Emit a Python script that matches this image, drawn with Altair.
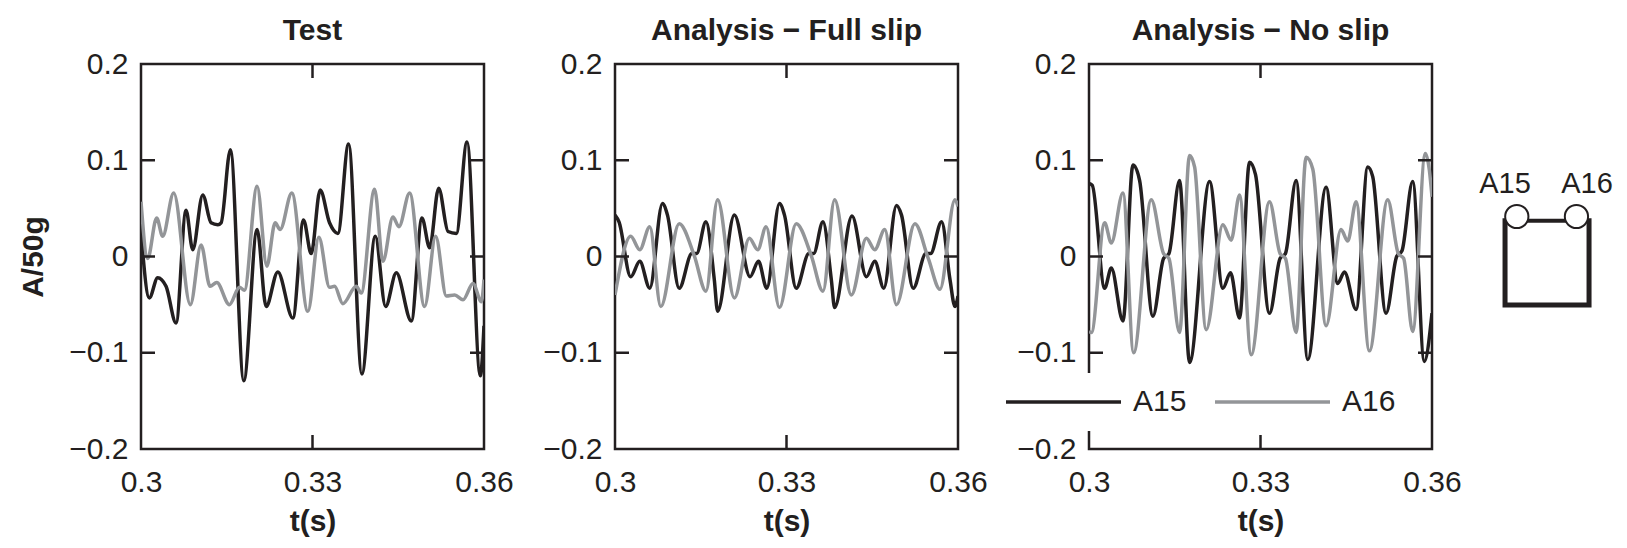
import altair as alt
import pandas as pd

INK = "#231f20"
GREY = "#939598"
FONT = "Liberation Sans"

series_names = ["A15", "A16"]
panel_titles = ["Test", "Analysis − Full slip", "Analysis − No slip"]
y_title = "A/50g"
x_title = "t(s)"
y_ticks = [-0.2, -0.1, 0, 0.1, 0.2]
x_ticks = [0.3, 0.33, 0.36]
inner_y_ticks = [-0.1, 0, 0.1]
inner_x_ticks = [0.33]

# ---- Test ----
test_a15_t = [0.3, 0.30146, 0.30292, 0.30438, 0.30613, 0.30788, 0.30905, 0.31080, 0.31226, 0.31343,
              0.31401, 0.31564, 0.31798, 0.32031, 0.32189, 0.32393, 0.32656, 0.32843, 0.32977, 0.33134,
              0.33298, 0.33444, 0.33631, 0.33864, 0.34098, 0.34279, 0.34466, 0.34729, 0.34915, 0.35049,
              0.35207, 0.35370, 0.35516, 0.35703, 0.35936, 0.36]
test_a15_v = [0.025, -0.043, -0.022, -0.031, -0.069, 0.048, 0.007, 0.064, 0.035, 0.033,
              0.035, 0.111, -0.129, 0.028, -0.052, -0.016, -0.064, 0.038, 0.003, 0.069,
              0.035, 0.024, 0.117, -0.122, 0.021, -0.052, -0.017, -0.067, 0.040, 0.009,
              0.071, 0.026, 0.024, 0.119, -0.124, -0.072]
test_a16_t = [0.3, 0.30117, 0.30274, 0.30379, 0.30572, 0.30864, 0.31051, 0.31208, 0.31325, 0.31547,
              0.31722, 0.31809, 0.32031, 0.32201, 0.32347, 0.32434, 0.32638, 0.32919, 0.33111, 0.33298,
              0.33386, 0.33531, 0.33765, 0.33852, 0.34086, 0.34232, 0.34407, 0.34512, 0.34699, 0.34961,
              0.35154, 0.35341, 0.35487, 0.35633, 0.35808, 0.35954, 0.36]
test_a16_v = [0.057, -0.002, 0.040, 0.021, 0.066, -0.050, 0.012, -0.031, -0.027, -0.050,
              -0.032, -0.035, 0.073, -0.010, 0.035, 0.028, 0.066, -0.057, 0.020, -0.032,
              -0.031, -0.049, -0.031, -0.038, 0.070, -0.005, 0.041, 0.031, 0.066, -0.052,
              0.021, -0.041, -0.040, -0.045, -0.028, -0.047, -0.024]

# ---- Analysis - Full slip ----
full_a15_t = [0.3, 0.30070, 0.30275, 0.30433, 0.30608, 0.30830, 0.30918, 0.31123, 0.31345, 0.31427,
              0.31591, 0.31737, 0.31795, 0.32088, 0.32363, 0.32509, 0.32655, 0.32877, 0.32965, 0.33170,
              0.33392, 0.33474, 0.33638, 0.33784, 0.33842, 0.34146, 0.34398, 0.34544, 0.34702, 0.34924,
              0.35012, 0.35216, 0.35439, 0.35520, 0.35713, 0.35860, 0.35947, 0.36]
full_a15_v = [0.043, 0.036, -0.021, -0.005, -0.033, 0.055, 0.043, -0.033, 0.003, 0.003,
              0.036, -0.024, -0.057, 0.043, -0.021, -0.005, -0.033, 0.055, 0.043, -0.033,
              0.003, 0.003, 0.036, -0.024, -0.053, 0.042, -0.021, -0.005, -0.033, 0.053,
              0.043, -0.033, 0.003, 0.003, 0.036, -0.024, -0.052, -0.041]
full_a16_t = [0.3, 0.30275, 0.30433, 0.30608, 0.30801, 0.31123, 0.31386, 0.31591, 0.31795, 0.32088,
              0.32351, 0.32497, 0.32643, 0.32877, 0.33170, 0.33433, 0.33638, 0.33842, 0.34135, 0.34398,
              0.34544, 0.34719, 0.34924, 0.35246, 0.35480, 0.35684, 0.35947, 0.36]
full_a16_v = [-0.040, 0.021, 0.007, 0.031, -0.052, 0.034, 0.001, -0.036, 0.059, -0.043,
              0.019, 0.007, 0.031, -0.053, 0.034, 0.001, -0.036, 0.059, -0.040, 0.019,
              0.007, 0.028, -0.050, 0.034, -0.002, -0.034, 0.059, 0.052]

# ---- Analysis - No slip ----
no_a15_t = [0.3, 0.30058, 0.30274, 0.30390, 0.30594, 0.30769, 0.30885, 0.31118, 0.31305, 0.31398,
            0.31584, 0.31759, 0.32109, 0.32342, 0.32476, 0.32633, 0.32808, 0.32913, 0.33157, 0.33343,
            0.33436, 0.33623, 0.33827, 0.34147, 0.34351, 0.34468, 0.34672, 0.34876, 0.34963, 0.35196,
            0.35382, 0.35475, 0.35662, 0.35866, 0.36]
no_a15_v = [0.076, 0.074, -0.033, -0.012, -0.067, 0.095, 0.079, -0.062, -0.002, 0.003,
            0.079, -0.110, 0.078, -0.033, -0.017, -0.064, 0.098, 0.085, -0.059, -0.002,
            0.003, 0.079, -0.107, 0.072, -0.028, -0.016, -0.055, 0.093, 0.083, -0.059,
            0.000, 0.006, 0.078, -0.109, -0.059]
no_a16_t = [0.3, 0.30041, 0.30274, 0.30390, 0.30594, 0.30781, 0.31089, 0.31305, 0.31398, 0.31584,
            0.31759, 0.31847, 0.32050, 0.32342, 0.32487, 0.32633, 0.32837, 0.33157, 0.33343, 0.33436,
            0.33623, 0.33798, 0.33914, 0.34147, 0.34409, 0.34526, 0.34672, 0.34905, 0.35225, 0.35411,
            0.35504, 0.35662, 0.35883, 0.35953, 0.36]
no_a16_v = [-0.078, -0.079, 0.035, 0.014, 0.066, -0.100, 0.059, 0.003, -0.002, -0.079,
            0.105, 0.093, -0.076, 0.033, 0.017, 0.064, -0.102, 0.057, 0.003, -0.002,
            -0.079, 0.103, 0.091, -0.072, 0.028, 0.016, 0.057, -0.098, 0.059, 0.003,
            -0.002, -0.078, 0.107, 0.090, 0.062]

# ---- sensor schematic (diagram units: box is the unit square) ----
box_x = [0, 0, 1, 1]
box_y = [1, 0, 0, 1]
sensor_x = [0.14, 0.85]
sensor_y = [1.05, 1.05]
sensor_label_x = [0.0, 0.976]
sensor_label_y = [1.33, 1.33]

W, H = 343, 385
TICK = 14
SPACING = 131


def series_frame(t15, v15, t16, v16):
    a = pd.DataFrame({"t": t15, "v": v15, "s": series_names[0], "i": range(len(t15))})
    b = pd.DataFrame({"t": t16, "v": v16, "s": series_names[1], "i": range(len(t16))})
    return pd.concat([a, b], ignore_index=True)


def panel(title, df, first, legend):
    xscale = alt.Scale(domain=[0.3, 0.36], nice=False, zero=False)
    yscale = alt.Scale(domain=[-0.2, 0.2], nice=False, zero=False)
    xaxis = alt.Axis(values=x_ticks, format="~g", title=x_title, ticks=False, tickSize=0,
                     domain=False, grid=False, labelPadding=18, labelFlush=False,
                     labelOverlap=False, titlePadding=9)
    yaxis = alt.Axis(values=y_ticks, format="~g", title=y_title if first else None, ticks=False,
                     tickSize=0, domain=False, grid=False, labelPadding=13, labelFlush=False,
                     labelOverlap=False, titlePadding=20)
    if legend:
        leg = alt.Legend(orient="none", legendX=-97, legendY=309, direction="horizontal",
                         symbolType="stroke", symbolSize=13225, symbolStrokeWidth=3.5,
                         labelFontSize=30, labelFont=FONT, labelColor=INK, title=None,
                         fillColor="white", padding=12, labelOffset=10, columnPadding=26,
                         clipHeight=34, labelLimit=0)
    else:
        leg = None
    color = alt.Color("s:N", scale=alt.Scale(domain=series_names, range=[INK, GREY]), legend=leg)
    lines = alt.Chart(df).mark_line(strokeWidth=3.5, interpolate="monotone", clip=True).encode(
        x=alt.X("t:Q", scale=xscale, axis=xaxis),
        y=alt.Y("v:Q", scale=yscale, axis=yaxis),
        color=color,
        order="i:Q",
    )
    ydf = pd.DataFrame({"v": inner_y_ticks})
    xdf = pd.DataFrame({"t": inner_x_ticks})
    rule = dict(color=INK, strokeWidth=2.5)
    lt = alt.Chart(ydf).mark_rule(**rule).encode(
        y=alt.Y("v:Q"), x=alt.value(0), x2=alt.value(TICK))
    rt = alt.Chart(ydf).mark_rule(**rule).encode(
        y=alt.Y("v:Q"), x=alt.value(W - TICK), x2=alt.value(W))
    tt = alt.Chart(xdf).mark_rule(**rule).encode(
        x=alt.X("t:Q"), y=alt.value(0), y2=alt.value(TICK))
    bt = alt.Chart(xdf).mark_rule(**rule).encode(
        x=alt.X("t:Q"), y=alt.value(H - TICK), y2=alt.value(H))
    return alt.layer(lines, lt, rt, tt, bt).properties(
        width=W, height=H,
        title=alt.TitleParams(title, fontSize=30, font=FONT, fontWeight="bold", color=INK,
                              baseline="bottom", offset=-27),
        view=alt.ViewBackground(stroke=INK, strokeWidth=2.5),
    )


p1 = panel(panel_titles[0], series_frame(test_a15_t, test_a15_v, test_a16_t, test_a16_v), True, False)
p2 = panel(panel_titles[1], series_frame(full_a15_t, full_a15_v, full_a16_t, full_a16_v), False, False)
p3 = panel(panel_titles[2], series_frame(no_a15_t, no_a15_v, no_a16_t, no_a16_v), False, True)

# schematic
SW = 60
sx = alt.Scale(domain=[0.690, 0.690 + SW / 84.0], nice=False, zero=False)
sy = alt.Scale(domain=[-1.708, 2.859], nice=False, zero=False)
box_df = pd.DataFrame({"x": box_x, "y": box_y, "i": range(len(box_x))})
top_df = pd.DataFrame({"x": [box_x[0]], "x2": [box_x[-1]], "y": [box_y[0]]})
sens_df = pd.DataFrame({"x": sensor_x, "y": sensor_y})
lab_df = pd.DataFrame({"x": sensor_label_x, "y": sensor_label_y, "name": series_names})

box = alt.Chart(box_df).mark_line(color=INK, strokeWidth=5, strokeJoin="miter", strokeCap="square").encode(
    x=alt.X("x:Q", scale=sx, axis=None), y=alt.Y("y:Q", scale=sy, axis=None), order="i:Q")
top = alt.Chart(top_df).mark_rule(color=INK, strokeWidth=4).encode(
    x=alt.X("x:Q", scale=sx, axis=None), x2="x2:Q", y=alt.Y("y:Q", scale=sy, axis=None))
sens = alt.Chart(sens_df).mark_point(shape="circle", filled=True, fill="white", stroke=INK,
                                     strokeWidth=2, size=540, opacity=1).encode(
    x=alt.X("x:Q", scale=sx, axis=None), y=alt.Y("y:Q", scale=sy, axis=None))
labs = alt.Chart(lab_df).mark_text(font=FONT, fontSize=29, color=INK, baseline="alphabetic",
                                   align="center").encode(
    x=alt.X("x:Q", scale=sx, axis=None), y=alt.Y("y:Q", scale=sy, axis=None), text="name:N")
schem = alt.layer(box, top, sens, labs).properties(
    width=SW, height=H, view=alt.ViewBackground(stroke="transparent"))

chart = alt.hconcat(p1, p2, p3, schem, spacing=SPACING, bounds="flush").resolve_scale(
    color="independent").resolve_legend(color="independent").properties(
    padding={"left": 17, "top": 14, "right": 0, "bottom": 0},
    background="white",
).configure_view(stroke="transparent").configure_axis(
    labelFont=FONT, labelFontSize=30, labelColor=INK,
    titleFont=FONT, titleFontSize=30, titleFontWeight="bold", titleColor=INK,
)

chart.save("out.html", embed_options={"renderer": "svg", "actions": False})
